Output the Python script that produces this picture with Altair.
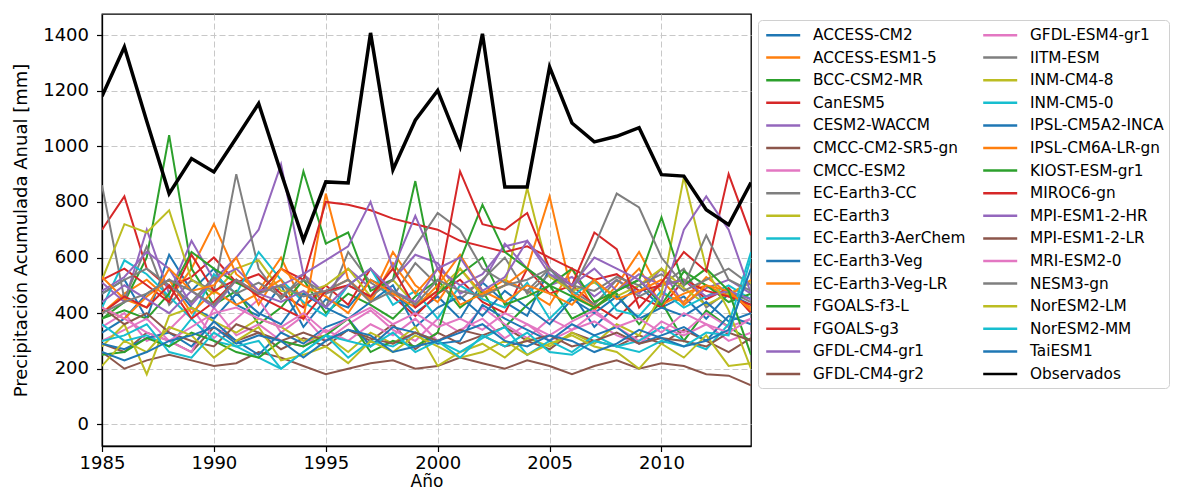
import altair as alt
import pandas as pd

years = list(range(1985, 2015))

models = [
    "ACCESS-CM2", "ACCESS-ESM1-5", "BCC-CSM2-MR", "CanESM5", "CESM2-WACCM",
    "CMCC-CM2-SR5-gn", "CMCC-ESM2", "EC-Earth3-CC", "EC-Earth3", "EC-Earth3-AerChem",
    "EC-Earth3-Veg", "EC-Earth3-Veg-LR", "FGOALS-f3-L", "FGOALS-g3", "GFDL-CM4-gr1",
    "GFDL-CM4-gr2", "GFDL-ESM4-gr1", "IITM-ESM", "INM-CM4-8", "INM-CM5-0",
    "IPSL-CM5A2-INCA", "IPSL-CM6A-LR-gn", "KIOST-ESM-gr1", "MIROC6-gn", "MPI-ESM1-2-HR",
    "MPI-ESM1-2-LR", "MRI-ESM2-0", "NESM3-gn", "NorESM2-LM", "NorESM2-MM", "TaiESM1",
]

access_cm2 = [470, 520, 380, 610, 480, 560, 430, 390, 500, 350, 450, 420, 520, 480, 400, 460, 380, 510, 440, 390, 560, 470, 350, 430, 500, 420, 460, 380, 470, 430]
access_esm1_5 = [400, 470, 520, 450, 560, 720, 540, 480, 600, 430, 480, 520, 450, 620, 500, 440, 560, 470, 520, 480, 430, 560, 410, 500, 620, 470, 440, 530, 470, 420]
bcc_csm2_mr = [380, 440, 600, 1040, 560, 430, 480, 360, 420, 520, 400, 470, 430, 380, 460, 520, 420, 480, 350, 430, 500, 380, 420, 470, 360, 440, 300, 410, 350, 300]
canesm5 = [700, 820, 560, 490, 530, 600, 510, 540, 470, 420, 500, 430, 560, 460, 390, 470, 520, 440, 400, 560, 470, 500, 430, 380, 460, 420, 520, 450, 490, 400]
cesm2_waccm = [510, 440, 700, 470, 660, 520, 600, 700, 935, 540, 470, 560, 490, 520, 610, 580, 470, 510, 650, 560, 500, 530, 460, 520, 470, 560, 430, 490, 520, 470]
cmcc_cm2_sr5 = [290, 260, 330, 300, 260, 350, 300, 330, 270, 310, 280, 340, 300, 360, 270, 330, 290, 320, 350, 300, 270, 330, 300, 280, 320, 290, 340, 300, 260, 310]
cmcc_esm2 = [350, 400, 300, 340, 420, 310, 380, 450, 330, 390, 300, 360, 410, 340, 300, 380, 330, 420, 360, 310, 380, 340, 400, 350, 300, 370, 330, 400, 350, 380]
ec_earth3_cc = [860, 450, 640, 430, 520, 480, 900, 560, 450, 540, 420, 620, 510, 460, 580, 500, 450, 520, 600, 470, 540, 480, 430, 520, 460, 500, 560, 420, 480, 440]
ec_earth3 = [520, 720, 690, 770, 520, 470, 560, 590, 480, 470, 500, 560, 460, 520, 430, 480, 560, 460, 500, 850, 530, 480, 510, 460, 500, 560, 490, 430, 470, 510]
ec_earth3_aerchem = [420, 590, 540, 460, 380, 540, 470, 620, 520, 440, 390, 500, 560, 430, 480, 380, 500, 450, 420, 510, 380, 460, 520, 410, 390, 480, 420, 460, 500, 450]
ec_earth3_veg = [330, 380, 470, 520, 420, 380, 470, 400, 360, 470, 420, 380, 440, 500, 350, 420, 460, 390, 480, 420, 360, 450, 400, 460, 380, 420, 390, 440, 370, 400]
ec_earth3_veg_lr = [420, 380, 460, 520, 400, 480, 430, 470, 520, 380, 830, 520, 440, 580, 470, 560, 430, 470, 500, 560, 820, 470, 420, 480, 560, 430, 470, 500, 460, 520]
fgoals_f3_l = [380, 410, 380, 470, 620, 560, 510, 470, 560, 910, 650, 690, 480, 520, 875, 470, 540, 600, 430, 460, 500, 560, 440, 480, 520, 430, 550, 500, 440, 470]
fgoals_g3 = [520, 560, 500, 440, 610, 480, 520, 470, 560, 520, 800, 790, 770, 740, 720, 700, 660, 640, 620, 640, 600, 560, 520, 540, 480, 500, 520, 480, 460, 430]
gfdl_cm4_gr1 = [480, 530, 620, 560, 430, 520, 560, 480, 500, 540, 590, 640, 800, 560, 750, 560, 500, 540, 640, 660, 540, 500, 560, 480, 540, 500, 520, 460, 480, 450]
gfdl_cm4_gr2 = [260, 200, 230, 250, 230, 210, 220, 260, 240, 210, 180, 200, 220, 230, 200, 210, 240, 220, 200, 230, 210, 180, 210, 230, 200, 220, 210, 180, 175, 140]
gfdl_esm4_gr1 = [300, 340, 380, 300, 260, 420, 320, 360, 300, 280, 340, 300, 360, 320, 380, 300, 340, 380, 310, 360, 300, 340, 370, 320, 290, 350, 320, 360, 300, 330]
iitm_esm = [470, 520, 560, 500, 440, 530, 470, 510, 460, 520, 470, 500, 460, 520, 640, 760, 700, 560, 510, 480, 560, 500, 480, 530, 500, 540, 480, 520, 560, 500]
inm_cm4_8 = [280, 360, 180, 390, 420, 370, 330, 380, 350, 300, 320, 260, 330, 290, 350, 210, 260, 290, 240, 310, 280, 330, 290, 360, 320, 470, 890, 560, 410, 200]
inm_cm5_0 = [360, 300, 320, 280, 380, 300, 280, 240, 200, 260, 320, 240, 300, 280, 330, 300, 260, 310, 350, 250, 300, 260, 320, 280, 300, 350, 300, 270, 360, 620]
ipsl_cm5a2_inca = [290, 270, 310, 330, 280, 370, 300, 250, 330, 290, 350, 380, 280, 350, 330, 290, 300, 430, 380, 340, 300, 360, 320, 350, 290, 320, 350, 300, 390, 360]
ipsl_cm6a_lr = [530, 450, 420, 560, 480, 500, 600, 430, 560, 500, 460, 400, 520, 470, 420, 500, 610, 480, 440, 500, 470, 430, 520, 450, 480, 520, 430, 500, 480, 410]
kiost_esm = [250, 260, 310, 280, 330, 300, 260, 240, 300, 280, 320, 380, 260, 300, 280, 330, 590, 790, 620, 560, 500, 460, 420, 480, 520, 745, 500, 560, 480, 250]
miroc6 = [400, 460, 420, 500, 380, 440, 520, 460, 420, 380, 480, 500, 460, 560, 420, 480, 910, 720, 700, 760, 560, 500, 690, 630, 420, 510, 620, 550, 900, 680]
mpi_esm1_2_hr = [440, 500, 450, 400, 480, 420, 520, 470, 440, 480, 420, 500, 560, 480, 440, 560, 600, 480, 530, 660, 560, 500, 600, 560, 520, 440, 700, 820, 700, 470]
mpi_esm1_2_lr = [420, 360, 400, 330, 300, 280, 360, 330, 300, 330, 300, 340, 310, 290, 330, 300, 340, 320, 280, 300, 320, 280, 300, 330, 290, 310, 300, 280, 330, 300]
mri_esm2_0 = [420, 380, 330, 300, 350, 400, 420, 380, 350, 400, 330, 380, 420, 360, 400, 350, 380, 340, 400, 360, 320, 370, 410, 350, 380, 330, 400, 360, 330, 380]
nesm3 = [400, 440, 470, 520, 480, 430, 520, 470, 500, 460, 480, 520, 440, 480, 430, 520, 480, 460, 500, 520, 560, 480, 640, 830, 780, 600, 500, 680, 520, 480]
noresm2_lm = [210, 300, 260, 350, 320, 240, 300, 350, 230, 250, 280, 220, 300, 260, 320, 280, 240, 260, 300, 250, 290, 320, 280, 260, 200, 290, 240, 320, 210, 220]
noresm2_mm = [300, 320, 360, 260, 240, 330, 280, 300, 200, 260, 320, 300, 280, 330, 260, 300, 240, 320, 280, 330, 260, 250, 300, 280, 260, 300, 280, 330, 320, 600]
taiesm1 = [260, 230, 260, 300, 320, 350, 290, 320, 300, 240, 300, 340, 320, 260, 280, 300, 330, 360, 300, 280, 320, 300, 260, 290, 340, 310, 280, 300, 340, 560]

observados = [1180, 1357, 1090, 830, 956, 908, 1030, 1154, 905, 662, 872, 868, 1408, 916, 1094, 1201, 1000, 1405, 854, 854, 1285, 1084, 1016, 1036, 1067, 898, 893, 772, 718, 870]

series = [
    access_cm2, access_esm1_5, bcc_csm2_mr, canesm5, cesm2_waccm, cmcc_cm2_sr5,
    cmcc_esm2, ec_earth3_cc, ec_earth3, ec_earth3_aerchem, ec_earth3_veg,
    ec_earth3_veg_lr, fgoals_f3_l, fgoals_g3, gfdl_cm4_gr1, gfdl_cm4_gr2,
    gfdl_esm4_gr1, iitm_esm, inm_cm4_8, inm_cm5_0, ipsl_cm5a2_inca, ipsl_cm6a_lr,
    kiost_esm, miroc6, mpi_esm1_2_hr, mpi_esm1_2_lr, mri_esm2_0, nesm3,
    noresm2_lm, noresm2_mm, taiesm1,
]

tab10 = ["#1f77b4", "#ff7f0e", "#2ca02c", "#d62728", "#9467bd",
         "#8c564b", "#e377c2", "#7f7f7f", "#bcbd22", "#17becf"]

all_names = models + ["Observados"]
all_colors = [tab10[i % 10] for i in range(len(models))] + ["#000000"]

rows = []
for k, (name, vals) in enumerate(zip(models, series)):
    for y, v in zip(years, vals):
        rows.append({"model": name, "year": y, "value": v})
df_models = pd.DataFrame(rows)
df_obs = pd.DataFrame({"model": "Observados", "year": years, "value": observados})

color_scale = alt.Scale(domain=all_names, range=all_colors)
legend = alt.Legend(
    orient="none", legendX=656, legendY=6, columns=2, title=None, symbolLimit=60,
    symbolType="M-0.8,0L3.2,0", symbolSize=289, symbolStrokeWidth=2.5,
    labelFontSize=15.3, labelOffset=30, columnPadding=12, rowPadding=3.6,
    padding=5, strokeColor="#d0d0d0", cornerRadius=4, fillColor="white",
    labelColor="black", labelLimit=300,
)

x_enc = alt.X("year:Q", scale=alt.Scale(domain=[1985, 2014], nice=False, zero=False),
              axis=alt.Axis(title="Año", values=[1985, 1990, 1995, 2000, 2005, 2010], format="d",
                            labelFlush=False, labelPadding=3, titleFontSize=17,
                            titleBaseline="top", titleY=27.5))
y_enc = alt.Y("value:Q", scale=alt.Scale(domain=[-78, 1476], nice=False, zero=False),
              axis=alt.Axis(title="Precipitación Acumulada Anual [mm]", format="d",
                            values=[0, 200, 400, 600, 800, 1000, 1200, 1400],
                            labelPadding=8, titlePadding=12))

lines = alt.Chart(df_models).mark_line(strokeWidth=2, clip=True).encode(
    x=x_enc, y=y_enc,
    color=alt.Color("model:N", scale=color_scale, legend=legend),
    order="year:Q",
)
obs = alt.Chart(df_obs).mark_line(strokeWidth=3.5, clip=True).encode(
    x=x_enc, y=y_enc,
    color=alt.Color("model:N", scale=color_scale, legend=legend),
    order="year:Q",
)

chart = alt.layer(lines, obs).properties(
    width=649, height=432,
    padding={"left": 94, "top": 6, "right": 431, "bottom": 45},
    autosize=alt.AutoSizeParams(type="none"),
).configure(font="DejaVu Sans").configure_view(
    stroke="black", strokeWidth=1.3
).configure_axis(
    labelFontSize=18, titleFontSize=18, titleFontWeight="normal",
    labelColor="black", titleColor="black", domainColor="black", tickColor="black",
    tickSize=5.5, grid=True, gridColor="#c8c8c8", gridDash=[6, 3],
    gridWidth=1, domainWidth=1.3, tickWidth=1.2,
)

chart.save("out.html", embed_options={"renderer": "svg", "actions": False})
